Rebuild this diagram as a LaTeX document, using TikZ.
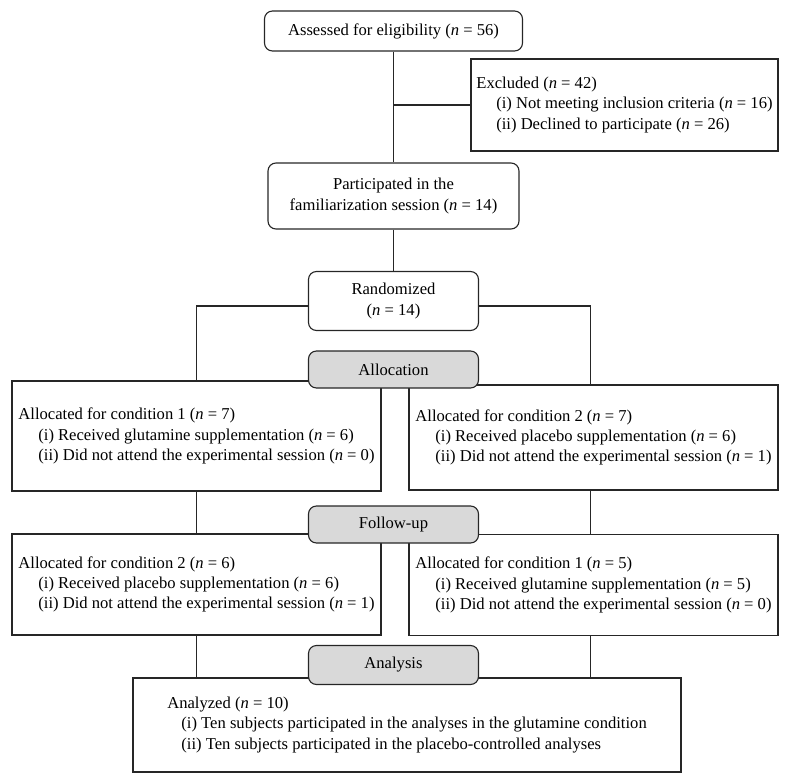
\documentclass[tikz,border=0pt]{standalone}
\usepackage{fontspec}
\setmainfont{Liberation Serif}
\newcommand{\nn}{\textit{n}}
\newcommand{\ind}{\hspace*{1.2em}}
\begin{document}
\begin{tikzpicture}[x=1pt,y=-1pt,line width=1.1pt,
  box/.style={draw=black!85,align=left,inner sep=0pt,font=\fontsize{16.6}{20.2}\selectfont},
  rbox/.style={box,rounded corners=8pt,align=center},
  tag/.style={rbox,fill=black!15,minimum width=170pt,minimum height=37pt}]
  \useasboundingbox (0,0) rectangle (789,783);

  \node[rbox,minimum width=258pt,minimum height=40pt] (assess) at (393.5,31) {Assessed for eligibility (\nn{} = 56)};
  \node[box,minimum width=307pt,minimum height=92pt] (excl) at (624.5,105)
    {Excluded (\nn{} = 42)\\\ind(i) Not meeting inclusion criteria (\nn{} = 16)\\\ind(ii) Declined to participate (\nn{} = 26)};
  \node[rbox,minimum width=251pt,minimum height=66pt] (partic) at (393.5,196)
    {Participated in the\\familiarization session (\nn{} = 14)};
  \node[rbox,minimum width=170pt,minimum height=59pt] (rand) at (393.5,301) {Randomized\\(\nn{} = 14)};

  \node[box,minimum width=369pt,minimum height=110pt] (a1) at (196.5,436)
    {Allocated for condition 1 (\nn{} = 7)\\\ind(i) Received glutamine supplementation (\nn{} = 6)\\\ind(ii) Did not attend the experimental session (\nn{} = 0)};
  \node[box,minimum width=369pt,minimum height=105pt] (a2) at (593.5,437.5)
    {Allocated for condition 2 (\nn{} = 7)\\\ind(i) Received placebo supplementation (\nn{} = 6)\\\ind(ii) Did not attend the experimental session (\nn{} = 1)};
  \node[box,minimum width=369pt,minimum height=101pt] (f1) at (196.5,584.5)
    {Allocated for condition 2 (\nn{} = 6)\\\ind(i) Received placebo supplementation (\nn{} = 6)\\\ind(ii) Did not attend the experimental session (\nn{} = 1)};
  \node[box,minimum width=369pt,minimum height=101pt] (f2) at (593.5,585)
    {Allocated for condition 1 (\nn{} = 5)\\\ind(i) Received glutamine supplementation (\nn{} = 5)\\\ind(ii) Did not attend the experimental session (\nn{} = 0)};
  \node[box,minimum width=548pt,minimum height=94pt] (res) at (407,725)
    {Analyzed (\nn{} = 10)\\\hspace*{0.85em}(i) Ten subjects participated in the analyses in the glutamine condition\\\hspace*{0.85em}(ii) Ten subjects participated in the placebo-controlled analyses};

  \draw[black!85] (assess) -- (partic);
  \draw[black!85] (excl.west) -- (excl.west -| assess.south);
  \draw[black!85] (partic) -- (rand);
  \draw[black!85] ([yshift=-5pt]rand.west) -| (a1.north);
  \draw[black!85] ([yshift=-5pt]rand.east) -| ([xshift=-3pt]a2.north);
  \draw[black!85] (a1) -- (f1);
  \draw[black!85] ([xshift=-3pt]a2.south) -- ([xshift=-3pt]f2.north);
  \draw[black!85] (f1.south) -- (f1.south |- res.north);
  \draw[black!85] ([xshift=-3pt]f2.south) -- ([xshift=-3pt]f2.south |- res.north);

  \node[tag] (alloc) at (393.5,369.5) {Allocation};
  \node[tag] (fup) at (393.5,524.5) {Follow-up};
  \node[tag,minimum height=39pt] (anl) at (393.5,665) {Analysis};
\end{tikzpicture}
\end{document}
